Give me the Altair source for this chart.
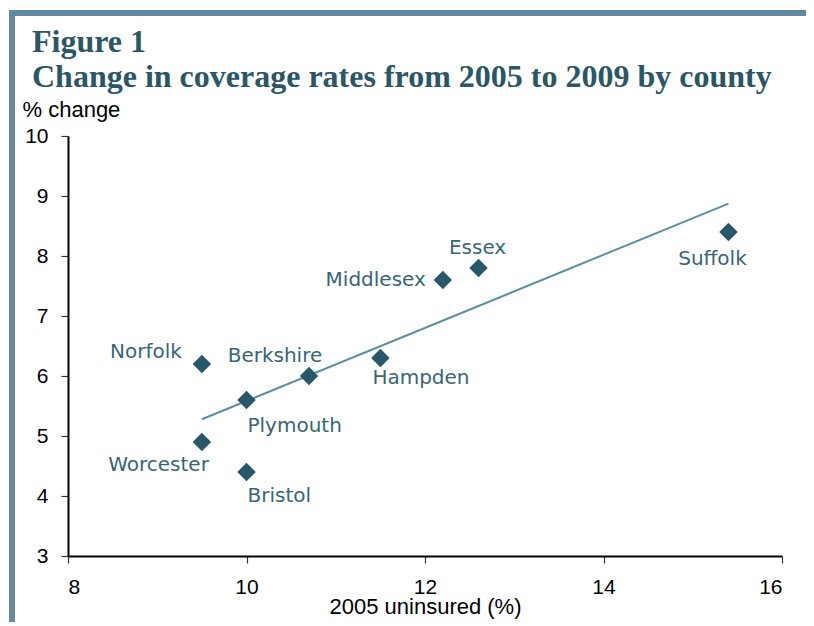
import altair as alt
import pandas as pd

counties = ["Norfolk", "Worcester", "Plymouth", "Bristol", "Berkshire",
            "Hampden", "Middlesex", "Essex", "Suffolk"]
uninsured_2005 = [9.5, 9.5, 10.0, 10.0, 10.7, 11.5, 12.2, 12.6, 15.4]
pct_change = [6.2, 4.9, 5.6, 4.4, 6.0, 6.3, 7.6, 7.8, 8.4]

x_ticks = [8, 10, 12, 14, 16]
y_ticks = [3, 4, 5, 6, 7, 8, 9, 10]

df = pd.DataFrame({"county": counties, "x": uninsured_2005, "y": pct_change})

# label placement (style): align, dx, dy
placement = {
    "Norfolk": ("right", -20, -12),
    "Worcester": ("right", 7, 23),
    "Plymouth": ("left", 1, 26),
    "Bristol": ("left", 1, 24),
    "Berkshire": ("center", -34, -20),
    "Hampden": ("left", -8, 20),
    "Middlesex": ("right", -17, 0),
    "Essex": ("center", -1, -20),
    "Suffolk": ("center", -16, 27),
}

POINT = "#27586a"
LABEL = "#3a6575"
LINE = "#5b90a2"
TITLE = "#2b5666"
FRAME = "#6189a0"

xs = alt.Scale(domain=[8, 16], nice=False)
ys = alt.Scale(domain=[3, 10], nice=False)

base = alt.Chart(df)

xenc = alt.X("x:Q", scale=xs, title="2005 uninsured (%)",
             axis=alt.Axis(values=x_ticks, grid=False, titleY=57,
                           titleBaseline="alphabetic"))
yenc = alt.Y("y:Q", scale=ys, title="% change",
             axis=alt.Axis(values=y_ticks, grid=False, titleAngle=0,
                           titleAlign="left", titleBaseline="middle",
                           titleX=-46, titleY=-27))

frame = alt.Chart(pd.DataFrame({"a": [0]})).mark_rect(
    fillOpacity=0, stroke=FRAME, strokeWidth=6, clip=False
).encode(x=alt.value(-56), x2=alt.value(747), y=alt.value(-123), y2=alt.value(530))

trend = base.transform_regression("x", "y").mark_line(
    color=LINE, strokeWidth=2
).encode(x=xenc, y=yenc)

points = base.mark_point(shape="diamond", filled=True, size=340, color=POINT,
                         opacity=1).encode(x=xenc, y=yenc)

labels = []
for name, (al, dx, dy) in placement.items():
    labels.append(
        base.transform_filter(alt.datum.county == name).mark_text(
            align=al, baseline="middle", dx=dx, dy=dy, font="DejaVu Sans",
            fontSize=20, color=LABEL
        ).encode(x=xenc, y=yenc, text="county:N")
    )

chart = alt.layer(frame, trend, points, *labels).properties(
    width=714, height=420,
    autosize=alt.AutoSizeParams(type="none"),
    padding={"left": 60, "top": 128, "right": 24, "bottom": 66},
    title=alt.TitleParams(
        text=["Figure 1", "Change in coverage rates from 2005 to 2009 by county"],
        anchor="start", frame="group", dx=-36, dy=92, offset=8,
        font="Liberation Serif", fontSize=32, fontWeight="bold",
        color=TITLE, lineHeight=35,
    ),
).configure_view(stroke=None).configure_axis(
    domainColor="black", domainWidth=2, tickColor="#333", tickWidth=1.2,
    tickSize=7, labelFont="Liberation Sans", labelFontSize=21,
    labelColor="black", titleFont="Liberation Sans", titleFontSize=22,
    titleColor="black", titleFontWeight="normal", labelPadding=13,
)

chart.save("out.html", embed_options={"renderer": "svg", "actions": False})
